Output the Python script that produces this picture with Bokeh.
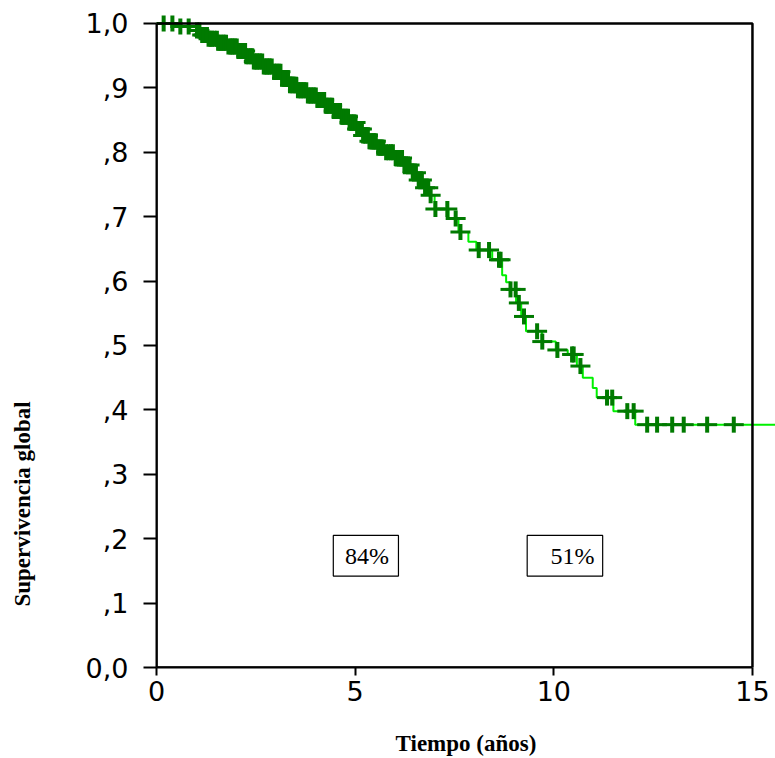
import numpy as np
from bokeh.plotting import figure
from bokeh.layouts import row
from bokeh.models import Range1d, FixedTicker, BoxAnnotation, Label
from bokeh.core.properties import value
from bokeh.embed import file_html
from bokeh.resources import INLINE

# Kaplan-Meier step curve (time in years, survival after each step)
km_time = [0.0, 0.45, 0.85, 1.10, 1.30, 1.55, 1.80, 2.05, 2.25, 2.45, 2.70, 2.95,
           3.15, 3.35, 3.55, 3.80, 4.05, 4.25, 4.45, 4.65, 4.85, 5.05, 5.20, 5.35,
           5.55, 5.75, 6.00, 6.20, 6.40, 6.55, 6.70, 6.85, 7.00, 7.35, 7.60, 7.85,
           8.05, 8.45, 8.70, 8.80, 8.90, 9.05, 9.18, 9.30, 9.70, 10.05, 10.35,
           10.58, 10.73, 10.98, 11.08, 11.50, 12.05, 15.60]
km_surv = [1.000, 0.995, 0.989, 0.982, 0.976, 0.970, 0.964, 0.957, 0.949, 0.941,
           0.933, 0.925, 0.915, 0.904, 0.896, 0.888, 0.881, 0.872, 0.864, 0.855,
           0.846, 0.836, 0.826, 0.817, 0.807, 0.800, 0.791, 0.780, 0.768, 0.757,
           0.745, 0.733, 0.712, 0.697, 0.676, 0.661, 0.648, 0.633, 0.609, 0.598,
           0.587, 0.566, 0.545, 0.522, 0.506, 0.493, 0.486, 0.468, 0.450, 0.434,
           0.419, 0.398, 0.377, 0.377]

# censored observations (years)
censor_time = [0.18, 0.40, 0.60, 0.81, 1.02, 1.08, 1.15, 1.19, 1.22, 1.27, 1.31,
               1.36, 1.40, 1.46, 1.52, 1.55, 1.58, 1.63, 1.67, 1.71, 1.75, 1.81,
               1.86, 1.90, 1.93, 1.98, 2.02, 2.06, 2.10, 2.14, 2.19, 2.23, 2.26,
               2.31, 2.37, 2.41, 2.45, 2.49, 2.53, 2.57, 2.61, 2.66, 2.70, 2.74,
               2.78, 2.82, 2.85, 2.90, 2.96, 2.99, 3.03, 3.08, 3.12, 3.16, 3.20,
               3.24, 3.27, 3.31, 3.36, 3.40, 3.45, 3.49, 3.52, 3.56, 3.60, 3.64,
               3.68, 3.72, 3.77, 3.81, 3.85, 3.89, 3.93, 3.97, 4.01, 4.05, 4.10,
               4.13, 4.17, 4.22, 4.26, 4.29, 4.33, 4.38, 4.42, 4.46, 4.50, 4.54,
               4.58, 4.62, 4.66, 4.69, 4.73, 4.78, 4.82, 4.86, 4.90, 4.93, 4.97,
               5.01, 5.05, 5.09, 5.13, 5.17, 5.20, 5.24, 5.27, 5.32, 5.36, 5.41,
               5.45, 5.48, 5.52, 5.58, 5.63, 5.67, 5.71, 5.78, 5.84, 5.90, 5.95,
               6.02, 6.08, 6.13, 6.18, 6.24, 6.30, 6.37, 6.45, 6.53, 6.60, 6.68,
               6.76, 6.84, 6.90, 7.02, 7.32, 7.53, 7.65, 8.11, 8.37, 8.62, 8.66,
               8.91, 9.04, 9.12, 9.25, 9.58, 9.71, 10.09, 10.46, 10.50, 10.67,
               11.34, 11.47, 11.85, 12.01, 12.35, 12.60, 12.98, 13.27, 13.86, 14.53]

x_ticks = [0, 5, 10, 15]
y_ticks = [0.0, 0.1, 0.2, 0.3, 0.4, 0.5, 0.6, 0.7, 0.8, 0.9, 1.0]
y_tick_labels = ["0,0", ",1", ",2", ",3", ",4", ",5", ",6", ",7", ",8", ",9", "1,0"]

annot_text = ["84%", "51%"]
annot_x = [5.30, 10.47]
annot_left = [4.45, 9.33]
annot_right = [6.09, 11.23]

x_title = "Tiempo (años)"
y_title = "Supervivencia  global"

kt = np.array(km_time)
ks = np.array(km_surv)
ct = np.array(censor_time)
idx = np.searchsorted(kt, ct, side="right") - 1
cs = ks[idx]

DARK = "#007A00"

p = figure(width=735, height=758, output_backend="svg", toolbar_location=None,
           x_range=Range1d(0, 15.58), y_range=Range1d(0, 1.02),
           min_border_left=116, min_border_right=0, min_border_top=10,
           min_border_bottom=90)
p.outline_line_color = None
p.xgrid.visible = False
p.ygrid.visible = False
p.background_fill_color = "white"

p.step(km_time, km_surv, mode="after", line_color="#00F000", line_width=2)
p.scatter(ct, cs, marker="dash", size=20, line_color=DARK, line_width=3)
p.scatter(ct, cs, marker="dash", size=16, angle=np.pi / 2, line_color=DARK,
          line_width=4)

# frame
p.add_layout(BoxAnnotation(left=0, right=15, bottom=0, top=1, fill_color=None,
                           line_color="black", line_alpha=1.0, line_width=2.5))

for t, xc, l, r in zip(annot_text, annot_x, annot_left, annot_right):
    p.add_layout(BoxAnnotation(left=l, right=r, bottom=0.142, top=0.205,
                               fill_color="white", fill_alpha=1.0,
                               line_color="black", line_alpha=1.0,
                               line_width=1.2))
    p.add_layout(Label(x=xc, y=0.1735, text=t, text_align="center",
                       text_baseline="middle", text_font="Liberation Serif",
                       text_font_size="24px", text_color="black"))

xa = p.xaxis[0]
xa.ticker = FixedTicker(ticks=x_ticks)
xa.bounds = (0, 15)
xa.major_tick_out = 8
xa.major_tick_in = 0
xa.minor_tick_line_color = None
xa.axis_line_width = 2
xa.major_tick_line_width = 2
xa.major_label_text_font = "DejaVu Sans"
xa.major_label_text_font_size = "27px"
xa.major_label_text_color = "black"
xa.major_label_standoff = 5
xa.axis_label = x_title
xa.axis_label_text_font = "Liberation Serif"
xa.axis_label_text_font_style = "bold"
xa.axis_label_text_font_size = "23px"
xa.axis_label_text_color = "black"
xa.axis_label_standoff = 27

ya = p.yaxis[0]
ya.ticker = FixedTicker(ticks=y_ticks)
ya.major_label_overrides = dict(zip(y_ticks, y_tick_labels))
ya.bounds = (0, 1)
ya.major_tick_out = 13
ya.major_tick_in = 0
ya.minor_tick_line_color = None
ya.axis_line_width = 2
ya.major_tick_line_width = 2
ya.major_label_text_font = "DejaVu Sans"
ya.major_label_text_font_size = "27px"
ya.major_label_text_color = "black"
ya.major_label_standoff = 15

# narrow strip holding the vertical axis title
side = figure(width=40, height=758, output_backend="svg", toolbar_location=None,
              x_range=Range1d(0, 40), y_range=Range1d(0, 758),
              min_border_left=0, min_border_right=0, min_border_top=0,
              min_border_bottom=0)
side.axis.visible = False
side.xgrid.visible = False
side.ygrid.visible = False
side.outline_line_color = None
side.text(x=[22], y=[192], text=[y_title], angle=np.pi / 2,
          text_align="center", text_baseline="middle",
          text_font=value("Liberation Serif"), text_font_style="bold",
          text_font_size="23px", text_color="black")

layout = row(side, p)
open("out.html", "w").write(file_html(layout, INLINE))
